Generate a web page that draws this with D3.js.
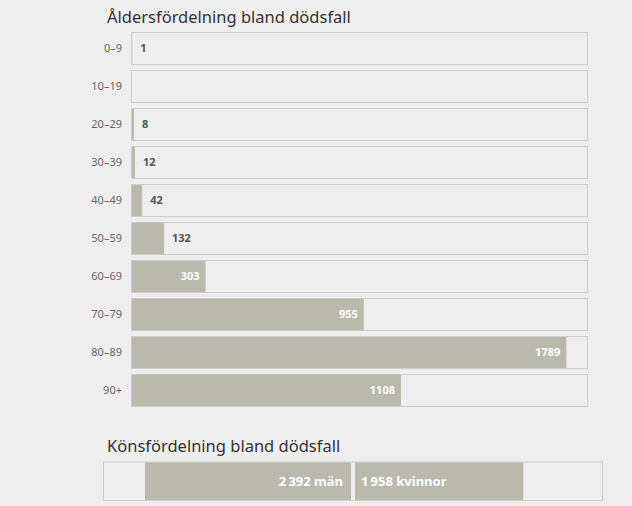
<!DOCTYPE html>
<html>
<head>
<meta charset="utf-8">
<script src="https://cdn.jsdelivr.net/npm/d3@7"></script>
<style>
  html, body { margin: 0; padding: 0; background: #eeeeee; }
  svg { display: block; font-family: "Noto Sans", "Open Sans", sans-serif; }
</style>
</head>
<body>
<svg id="chart" width="632" height="506"></svg>
<script>
const ageTitle = "Åldersfördelning bland dödsfall";
const ageGroups = ["0–9", "10–19", "20–29", "30–39", "40–49", "50–59", "60–69", "70–79", "80–89", "90+"];
const ageDeaths = [1, 0, 8, 12, 42, 132, 303, 955, 1789, 1108];

const genderTitle = "Könsfördelning bland dödsfall";
const genderLabels = ["män", "kvinnor"];
const genderDeaths = [2392, 1958];

const svg = d3.select("#chart");
const fmtGender = d3.formatLocale({decimal: ",", thousands: "\u2009", grouping: [3], currency: ["", " kr"]}).format(",d");
const fmtAge = d3.format("d");

// ---- Age chart ----
const boxLeft = 131, boxRight = 588;
svg.append("text")
  .attr("x", 107).attr("y", 23)
  .attr("font-size", 16.5).attr("fill", "#333")
  .text(ageTitle);

const y = d3.scaleBand().domain(ageGroups).range([32, 407]).paddingInner(5 / 38).paddingOuter(0);
const x = d3.scaleLinear().domain([0, d3.max(ageDeaths) * 1.05]).range([boxLeft + 1, boxRight]);

const rows = svg.append("g").selectAll("g").data(ageGroups).join("g");

rows.append("rect")
  .attr("x", boxLeft + 0.5)
  .attr("y", d => Math.round(y(d)) + 0.5)
  .attr("width", boxRight - boxLeft - 1)
  .attr("height", Math.round(y.bandwidth()) - 1)
  .attr("fill", "#eeeeee")
  .attr("stroke", "#cccccc").attr("stroke-width", 1);

rows.append("rect")
  .attr("x", x(0))
  .attr("y", d => Math.round(y(d)) + 1)
  .attr("width", (d, i) => x(ageDeaths[i]) - x(0))
  .attr("height", Math.round(y.bandwidth()) - 2)
  .attr("fill", "#b9baab");

const yAxis = d3.axisLeft(y).tickSize(0).tickPadding(9);
const ag = svg.append("g").attr("transform", `translate(${boxLeft},0)`).call(yAxis);
ag.select(".domain").remove();
ag.selectAll("text").attr("font-size", 11).attr("fill", "#666").attr("font-family", "'Noto Sans', sans-serif").attr("dy", "0.35em");

rows.filter((d, i) => ageDeaths[i] > 0).append("text")
  .attr("y", d => Math.round(y(d)) + y.bandwidth() / 2)
  .attr("dy", "0.35em")
  .attr("font-size", 11).attr("font-weight", "bold")
  .each(function(d) {
    const v = ageDeaths[ageGroups.indexOf(d)];
    const w = x(v) - x(0);
    const inside = w > 50;
    d3.select(this)
      .attr("x", inside ? x(v) - 6 : x(v) + 8)
      .attr("text-anchor", inside ? "end" : "start")
      .attr("fill", inside ? "#ffffff" : "#555555")
      .text(fmtAge(v));
  });

// ---- Gender chart ----
svg.append("text")
  .attr("x", 107).attr("y", 452)
  .attr("font-size", 16.5).attr("fill", "#333")
  .text(genderTitle);

const gLeft = 103, gRight = 603, gTop = 461.5, gH = 38.5;
const gx = d3.scaleLinear().domain([-2875, 2875]).range([gLeft, gRight]);

svg.append("rect")
  .attr("x", gLeft + 0.5).attr("y", gTop + 0.5)
  .attr("width", gRight - gLeft - 1).attr("height", gH)
  .attr("fill", "#eeeeee").attr("stroke", "#cccccc");

const gData = genderLabels.map((l, i) => ({label: l, value: genderDeaths[i], side: i === 0 ? -1 : 1}));

svg.append("g").selectAll("rect").data(gData).join("rect")
  .attr("x", d => d.side < 0 ? gx(-d.value) : gx(0) + 2)
  .attr("y", gTop + 1)
  .attr("width", d => gx(d.value) - gx(0) - 2)
  .attr("height", gH - 1)
  .attr("fill", "#b9baab");

svg.append("g").selectAll("text").data(gData).join("text")
  .attr("x", d => d.side < 0 ? gx(0) - 10 : gx(0) + 8)
  .attr("y", gTop + gH / 2 + 1)
  .attr("dy", "0.35em")
  .attr("text-anchor", d => d.side < 0 ? "end" : "start")
  .attr("font-size", 13).attr("font-weight", "bold").attr("fill", "#fff")
  .text(d => fmtGender(d.value) + " " + d.label);
</script>
</body>
</html>
